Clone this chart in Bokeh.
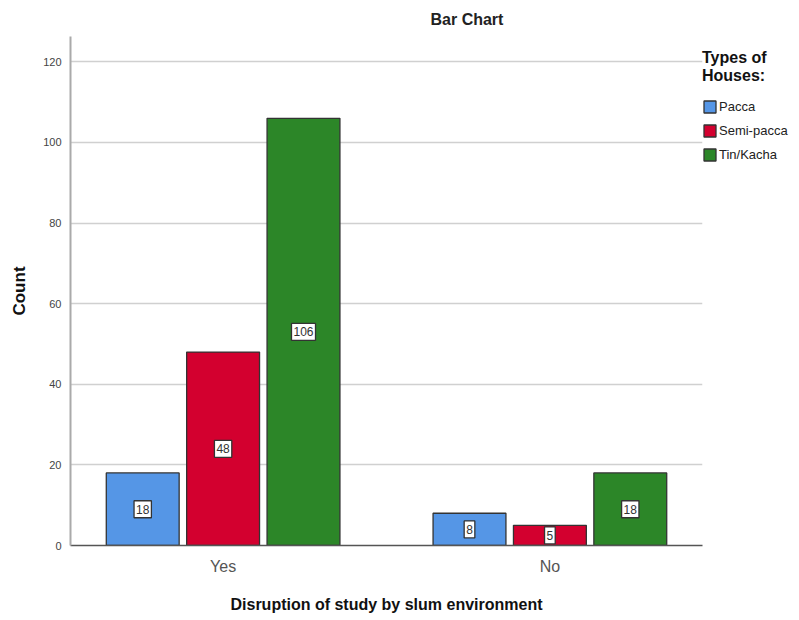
from bokeh.plotting import figure
from bokeh.models import (ColumnDataSource, FactorRange, Legend, LegendItem,
                          FixedTicker, Range1d)
from bokeh.transform import dodge
from bokeh.core.properties import value
from bokeh.embed import file_html
from bokeh.resources import INLINE

categories = ["Yes", "No"]
house_types = ["Pacca", "Semi-pacca", "Tin/Kacha"]
pacca = [18, 8]
semi_pacca = [48, 5]
tin_kacha = [106, 18]
colors = ["#5596E6", "#D3002F", "#2C8628"]

FONT = "Liberation Sans"

src = ColumnDataSource(dict(
    cat=categories,
    pacca=pacca, semi=semi_pacca, tin=tin_kacha,
    pacca_mid=[v / 2 for v in pacca],
    semi_mid=[v / 2 for v in semi_pacca],
    tin_mid=[v / 2 for v in tin_kacha],
    pacca_lbl=[str(v) for v in pacca],
    semi_lbl=[str(v) for v in semi_pacca],
    tin_lbl=[str(v) for v in tin_kacha],
))

p = figure(frame_width=632, frame_height=509, output_backend="svg", toolbar_location=None,
           x_range=FactorRange(factors=categories, range_padding=-0.033),
           y_range=Range1d(0, 126.3),
           min_border_left=70, min_border_right=0, min_border_bottom=75,
           min_border_top=36)
p.title.text = "Bar Chart"
p.title.text_font = FONT
p.title.text_font_size = "16px"
p.title.text_font_style = "bold"
p.title.text_color = "#222222"
p.title.align = "left"
p.title.offset = 360
p.title.standoff = 17
p.outline_line_color = None
p.background_fill_color = "white"

off = 0.246
w = 0.223
keys = ["pacca", "semi", "tin"]
renderers = []
for i, k in enumerate(keys):
    r = p.vbar(x=dodge("cat", (i - 1) * off, range=p.x_range), top=k, width=w,
               source=src, fill_color=colors[i], line_color="#333333", line_width=1.3)
    renderers.append(r)
for i, k in enumerate(keys):
    p.text(x=dodge("cat", (i - 1) * off, range=p.x_range), y=k + "_mid", text=k + "_lbl",
           source=src, text_align="center", text_baseline="middle",
           text_font=value(FONT), text_font_size="12px", text_color="#333333",
           background_fill_color="white", border_line_color="#333333",
           border_line_width=1.3, padding=dict(x=2, y=4))

# axes
p.yaxis.ticker = FixedTicker(ticks=[0, 20, 40, 60, 80, 100, 120])
p.yaxis.axis_label = "Count"
p.yaxis.axis_label_text_font = FONT
p.yaxis.axis_label_text_font_size = "17px"
p.yaxis.axis_label_text_font_style = "bold"
p.yaxis.axis_label_text_color = "#111111"
p.yaxis.axis_label_standoff = 11
p.yaxis.major_label_text_font = FONT
p.yaxis.major_label_text_font_size = "11px"
p.yaxis.major_label_text_color = "#444444"
p.yaxis.major_tick_line_color = None
p.yaxis.minor_tick_line_color = None
p.yaxis.axis_line_color = "#AAAAAA"
p.yaxis.axis_line_width = 2
p.yaxis.major_label_standoff = 3

p.xaxis.axis_label = "Disruption of study by slum environment"
p.xaxis.axis_label_text_font = FONT
p.xaxis.axis_label_text_font_size = "16px"
p.xaxis.axis_label_text_font_style = "bold"
p.xaxis.axis_label_text_color = "#111111"
p.xaxis.axis_label_standoff = 18
p.xaxis.major_label_text_font = FONT
p.xaxis.major_label_text_font_size = "16px"
p.xaxis.major_label_text_color = "#555555"
p.xaxis.major_tick_line_color = None
p.xaxis.axis_line_color = "#555555"
p.xaxis.axis_line_width = 1.5
p.xaxis.major_label_standoff = 6

p.xgrid.grid_line_color = None
p.ygrid.grid_line_color = "#D0D0D0"
p.ygrid.grid_line_width = 1.5

legend = Legend(items=[LegendItem(label=house_types[i], renderers=[renderers[i]]) for i in range(3)],
                location=(0, 383), orientation="vertical",
                title="Types of\nHouses:", title_text_font=FONT, title_text_font_size="16px",
                title_text_font_style="bold", title_text_color="#111111", title_standoff=14,
                label_text_font=FONT, label_text_font_size="13px", label_text_color="#222222",
                glyph_width=15, glyph_height=15, label_standoff=2, spacing=9,
                padding=0, margin=0, border_line_color=None, background_fill_alpha=0,
                label_height=15, label_width=80)
p.add_layout(legend, "right")

open("out.html", "w").write(file_html(p, INLINE))
